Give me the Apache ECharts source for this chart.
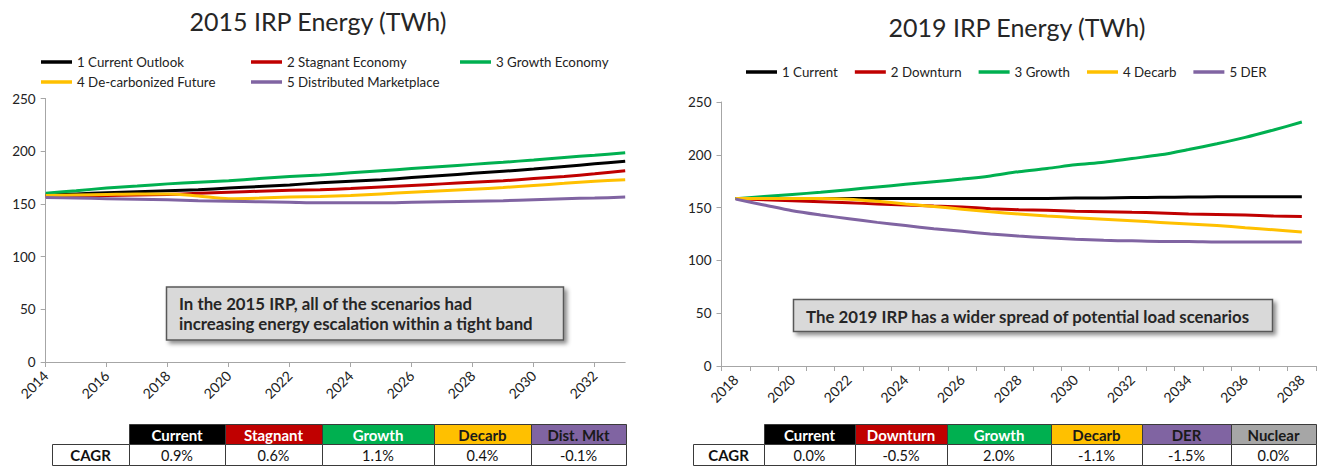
<!DOCTYPE html>
<html><head><meta charset="utf-8">
<script src="https://cdn.jsdelivr.net/npm/echarts@6/dist/echarts.min.js"></script>
<style>html,body{margin:0;padding:0;background:#fff}#c{width:1322px;height:466px}</style>
</head><body><div id="c"></div>
<script>
// ---------- DATA ----------
const years2015 = ['2014','2015','2016','2017','2018','2019','2020','2021','2022','2023','2024','2025','2026','2027','2028','2029','2030','2031','2032','2033'];
const names2015 = ['1 Current Outlook','2 Stagnant Economy','3 Growth Economy','4 De-carbonized Future','5 Distributed Marketplace'];
const current2015 = [158.5,159.5,160.5,161.5,162.5,163.5,165,166.5,168,170,171.5,173,175,177,179,181,183,185.5,188,190.5];
const stagnant2015 = [157,157.5,158,158.5,159,160,161,162,163,163.5,164.5,166,167.5,169,170.5,172,174,176,178.5,181.5];
const growth2015 = [160,162.5,165,167,169,170.5,172,174,176,177.5,179.5,181.5,183.5,185.5,187.5,189.5,191.7,194,196.2,198.5];
const decarb2015 = [158,158.5,159,159.5,159.5,157.5,155,155.5,156.5,157,158,159.5,161,162.5,164,165.5,167.5,169.5,171.5,173];
const distributed2015 = [156,155.5,155,154.5,154,153,152.5,152,151.5,151,151,151,151.5,152,152.5,153,154,155,155.5,156.5];

const years2019 = ['2018','2019','2020','2021','2022','2023','2024','2025','2026','2027','2028','2029','2030','2031','2032','2033','2034','2035','2036','2037','2038'];
const names2019 = ['1 Current','2 Downturn','3 Growth','4 Decarb','5 DER'];
const current2019 = [158.5,158.5,158.5,158.5,158.5,158.5,158.5,158.5,158.5,158.5,158.5,158.7,159,159.2,159.5,159.8,160,160.2,160.3,160.3,160.2];
const downturn2019 = [158.5,157.5,156.5,155.5,154.5,153.5,152.5,151.5,150.5,149,148,147.5,146.5,146,145.5,145,144,143.5,143,142,141.5];
const growth2019 = [158.5,160.5,162.5,164.5,167,169.5,172,174.5,177,180,184,187,190.5,193,196.5,200,205,210.5,216.5,223.5,231];
const decarb2019 = [158.5,158.5,158.5,158.5,158,156,153.5,151,148.5,146,144,142,140.5,139,137.5,136,134.5,133,131,129,127];
const der2019 = [158,152.5,147,143,139.5,136,133,130,127.5,125,123,121.5,120,119,118.5,118,118,117.5,117.5,117.5,117.5];

const yTickMax = 250, yTickStep = 50;

const tableHeaders2015 = ['Current','Stagnant','Growth','Decarb','Dist. Mkt'];
const tableCagr2015 = ['0.9%','0.6%','1.1%','0.4%','-0.1%'];
const tableHeaders2019 = ['Current','Downturn','Growth','Decarb','DER','Nuclear'];
const tableCagr2019 = ['0.0%','-0.5%','2.0%','-1.1%','-1.5%','0.0%'];

const title2015 = '2015 IRP Energy (TWh)';
const title2019 = '2019 IRP Energy (TWh)';
const note2015 = 'In the 2015 IRP, all of the scenarios had\nincreasing energy escalation within a tight band';
const note2019 = 'The 2019 IRP has a wider spread of potential load scenarios';

// ---------- STYLE ----------
const FONT = 'Lato';
const seriesColors = ['#000000','#c00000','#00b050','#ffc000','#8064a2'];
const headBg2015 = ['#000000','#c00000','#00b050','#ffc000','#8064a2'];
const headFg2015 = ['#ffffff','#ffffff','#ffffff','#1a1a1a','#1a1a1a'];
const headBg2019 = ['#000000','#c00000','#00b050','#ffc000','#8064a2','#a6a6a6'];
const headFg2019 = ['#ffffff','#ffffff','#ffffff','#1a1a1a','#1a1a1a','#1a1a1a'];
const axisGray = '#a6a6a6';
const textCol = '#222222';

const chart = echarts.init(document.getElementById('c'), null, {renderer:'svg'});

function xAxisCfg(grid, data, boundary, tickInterval){
  return {type:'category', gridIndex:grid, data:data, boundaryGap:boundary,
    axisLine:{show:true, lineStyle:{color:axisGray,width:1}},
    axisTick:{show:true, interval:tickInterval, length:5, lineStyle:{color:axisGray}},
    axisLabel:{interval:1, rotate:45, fontSize:14, fontFamily:FONT, color:textCol, margin:11},
    splitLine:{show:false}};
}
function yAxisCfg(grid){
  return {type:'value', gridIndex:grid, min:0, max:yTickMax, interval:yTickStep,
    axisLine:{show:true, lineStyle:{color:axisGray,width:1}},
    axisTick:{show:true, length:5, lineStyle:{color:axisGray}},
    axisLabel:{fontSize:13.5, fontFamily:FONT, color:textCol, margin:10},
    splitLine:{show:false}};
}
function lineSeries(name, data, idx, grid){
  return {type:'line', name:name, data:data, xAxisIndex:grid, yAxisIndex:grid,
    smooth:0.3, symbol:'none', color:seriesColors[idx],
    lineStyle:{width:3, color:seriesColors[idx]}, itemStyle:{color:seriesColors[idx]}};
}
const legendBase = {icon:'rect', itemWidth:31, itemHeight:3.5, padding:0, selectedMode:false,
  textStyle:{fontSize:13.3, fontFamily:FONT, color:textCol, lineHeight:14}};

// graphic helpers
const els = [];
function rect(x,y,w,h,fill,stroke){
  els.push({type:'rect', shape:{x:x,y:y,width:w,height:h}, style:{fill:fill, stroke:stroke||'#3a3a3a', lineWidth:1}, silent:true});
}
function txt(s,x,y,opts){
  els.push({type:'text', x:x, y:y, silent:true, style:Object.assign({text:s, fill:textCol, fontFamily:FONT, fontSize:14.5,
    align:'center', verticalAlign:'middle', textAlign:'center', textVerticalAlign:'middle'}, opts||{})});
}
function table(edges, headers, values, bg, fg, top){
  const h1 = 20, h2 = 21;
  rect(edges[0]+0.5, top+h1+0.5, edges[1]-edges[0], h2, '#ffffff');
  txt('CAGR', (edges[0]+edges[1])/2, top+h1+h2/2+0.5, {fontWeight:'bold', fontSize:15, fill:'#111'});
  headers.forEach(function(hd,i){
    const x0 = edges[i+1], x1 = edges[i+2];
    rect(x0+0.5, top+0.5, x1-x0, h1, bg[i]);
    txt(hd, (x0+x1)/2, top+h1/2+0.5, {fontWeight:'bold', fontSize:15, fill:fg[i]});
    rect(x0+0.5, top+h1+0.5, x1-x0, h2, '#ffffff');
    txt(values[i], (x0+x1)/2, top+h1+h2/2+0.5, {fill:'#111'});
  });
}
function note(x,y,w,h,s,tx,ty){
  els.push({type:'rect', shape:{x:x,y:y,width:w,height:h}, silent:true,
    style:{fill:'#d9d9d9', stroke:'#595959', lineWidth:1.5, shadowBlur:4, shadowOffsetX:3, shadowOffsetY:3, shadowColor:'rgba(0,0,0,0.45)'}});
  txt(s, tx, ty, {fontWeight:'bold', fontSize:16.8, fill:'#262626', align:'left', textAlign:'left', lineHeight:20});
}

note(166.5, 287, 397, 53, note2015, 179, 313);
note(793.5, 299.5, 479, 32, note2019, 806, 316);
table([52,129,225,322,434,531,626], tableHeaders2015, tableCagr2015, headBg2015, headFg2015, 424);
table([693,764,855,947,1051,1142,1231,1316], tableHeaders2019, tableCagr2019, headBg2019, headFg2019, 424);

const option = {
  animation:false,
  backgroundColor:'#ffffff',
  title:[
    {text:title2015, left:318, top:8, textAlign:'center', padding:0, textStyle:{fontSize:25, fontWeight:'normal', fontFamily:FONT, color:'#262626'}},
    {text:title2019, left:1017, top:14, textAlign:'center', padding:0, textStyle:{fontSize:25, fontWeight:'normal', fontFamily:FONT, color:'#262626'}}
  ],
  legend:[
    Object.assign({}, legendBase, {data:[names2015[0]], left:41, top:55}),
    Object.assign({}, legendBase, {data:[names2015[1]], left:251, top:55}),
    Object.assign({}, legendBase, {data:[names2015[2]], left:460, top:55}),
    Object.assign({}, legendBase, {data:[names2015[3]], left:41, top:75}),
    Object.assign({}, legendBase, {data:[names2015[4]], left:251, top:75}),
    Object.assign({}, legendBase, {data:names2019, left:746, top:65, itemGap:17})
  ],
  grid:[
    {left:45.7, top:98.5, width:579.5, height:263.5, containLabel:false},
    {left:721.5, top:102, width:594.5, height:264, containLabel:false}
  ],
  xAxis:[ xAxisCfg(0, years2015, false, 1), xAxisCfg(1, years2019, true, 0) ],
  yAxis:[ yAxisCfg(0), yAxisCfg(1) ],
  series:[
    lineSeries(names2015[0], current2015, 0, 0),
    lineSeries(names2015[1], stagnant2015, 1, 0),
    lineSeries(names2015[2], growth2015, 2, 0),
    lineSeries(names2015[3], decarb2015, 3, 0),
    lineSeries(names2015[4], distributed2015, 4, 0),
    lineSeries(names2019[0], current2019, 0, 1),
    lineSeries(names2019[1], downturn2019, 1, 1),
    lineSeries(names2019[2], growth2019, 2, 1),
    lineSeries(names2019[3], decarb2019, 3, 1),
    lineSeries(names2019[4], der2019, 4, 1)
  ],
  graphic: els
};
chart.setOption(option);
</script></body></html>
